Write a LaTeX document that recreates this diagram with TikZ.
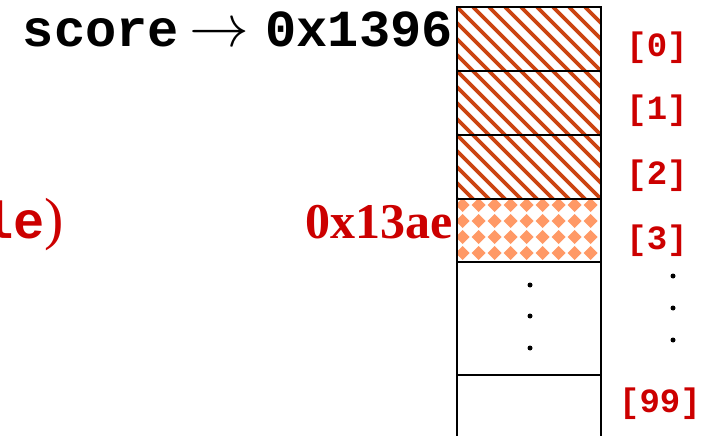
\documentclass[tikz,border=0pt]{standalone}
\usepackage{fontspec}
\newfontfamily\courfont{Liberation Mono}
\newfontfamily\seriffont{Liberation Serif}
\definecolor{lblred}{HTML}{CC0000}
\definecolor{hatchcol}{HTML}{CC4411}
\definecolor{diamcol}{HTML}{FF9966}
\begin{document}
\begin{tikzpicture}[x=1pt,y=-1pt,
  cellbox/.style={draw=black,line width=2.6pt,minimum width=144pt,inner sep=0pt,rectangle},
  idx/.style={text=lblred,font=\courfont\bfseries\fontsize{34}{34}\selectfont,inner sep=0pt},
  dotmark/.style={circle,fill=black,inner sep=0pt,minimum size=5pt},
  hatchline/.style={draw=hatchcol,line width=3.6pt}]
\clip (0,0) rectangle (716,436);
% hatched cells 0-2
\begin{scope}
  \clip (457,7) rectangle (601,199);
  \foreach \c in {-208,-192,...,160}
    \draw[hatchline] (457+\c,7) -- ++(200,200);
\end{scope}
% diamond cell 3
\begin{scope}
  \clip (457,199) rectangle (601,262);
  \foreach \i in {0,...,8}
    \foreach \j in {0,...,3}
      \fill[diamcol] ({462.7+16*\i},{205+16*\j}) +(-7,0) -- +(0,-7) -- +(7,0) -- +(0,7) -- cycle;
\end{scope}
% cells
\node[cellbox,minimum height=64pt] (c0) at (529,39) {};
\node[cellbox,minimum height=64pt] (c1) at (529,103) {};
\node[cellbox,minimum height=64pt] (c2) at (529,167) {};
\node[cellbox,minimum height=63pt] (c3) at (529,230.5) {};
\node[cellbox,minimum height=113pt] (c4) at (529,318.5) {};
\node[cellbox,minimum height=70pt] (c5) at (529,410) {};
% dots in box
\node[dotmark] (d1) at (530,285) {};
\node[dotmark] (d2) at (530,316) {};
\node[dotmark] (d3) at (530,348) {};
% dots right
\node[dotmark] (e1) at (673,276) {};
\node[dotmark] (e2) at (673,308) {};
\node[dotmark] (e3) at (673,340) {};
% index labels
\node[idx,anchor=base] (l0) at (657,57) {[0]};
\node[idx,anchor=base] (l1) at (657,120) {[1]};
\node[idx,anchor=base] (l2) at (657,184) {[2]};
\node[idx,anchor=base] (l3) at (657,249) {[3]};
\node[idx,anchor=base] (l99) at (660,412) {[99]};
% texts
\node[anchor=base east,inner sep=0pt,font=\fontsize{52}{52}\selectfont] (score) at (453,47)
  {{\courfont\bfseries score}\hspace{11pt}\scalebox{2.4}{$\rightarrow$}\hspace{16pt}{\courfont\bfseries 0x1396}};
\node[anchor=base east,inner sep=0pt,text=lblred,font=\seriffont\bfseries\fontsize{50}{50}\selectfont] (addr) at (453,238) {0x13ae};
\node[anchor=base east,inner sep=0pt,text=lblred,font=\fontsize{52}{52}\selectfont] (lead) at (64,238)
  {{\courfont\bfseries le}{\seriffont\fontsize{58}{58}\selectfont)}};
\end{tikzpicture}
\end{document}
